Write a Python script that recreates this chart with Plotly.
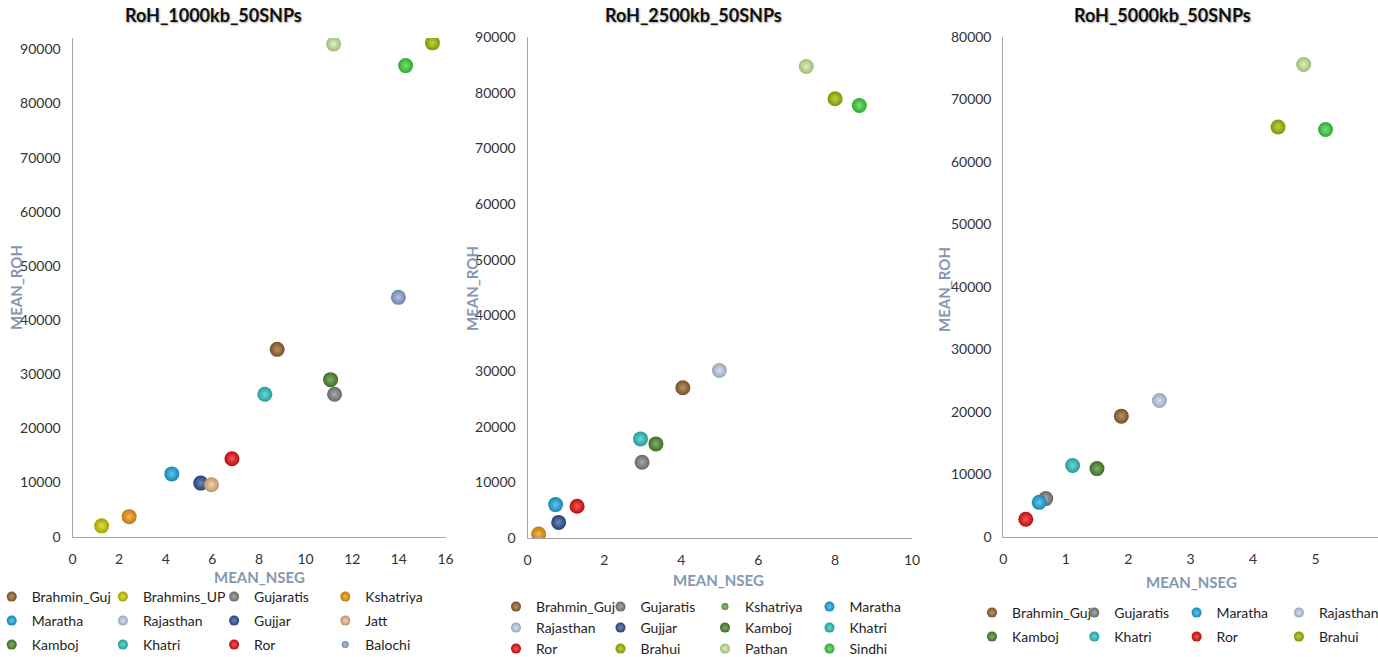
import plotly.graph_objects as go

W, H = 1378, 657

# ---------------- RoH_1000kb_50SNPs ----------------
pops_1000 = ["Brahmin_Guj", "Brahmins_UP", "Gujaratis", "Kshatriya", "Maratha", "Rajasthan",
             "Gujjar", "Jatt", "Kamboj", "Khatri", "Ror", "Balochi", "Pathan", "Sindhi", "Brahui"]
nseg_1000 = [8.78, 1.25, 11.24, 2.43, 4.26, None, 5.50, 5.96, 11.07, 8.25, 6.84, 13.98, 11.20, 14.29, 15.44]
roh_1000 = [34600, 2000, 26300, 3700, 11600, None, 9900, 9600, 29000, 26300, 14400, 44200, 91000, 87000, 91200]
legend_rows_1000 = [["Brahmin_Guj", "Brahmins_UP", "Gujaratis", "Kshatriya"],
                    ["Maratha", "Rajasthan", "Gujjar", "Jatt"],
                    ["Kamboj", "Khatri", "Ror", "Balochi"]]

# ---------------- RoH_2500kb_50SNPs ----------------
pops_2500 = ["Brahmin_Guj", "Gujaratis", "Kshatriya", "Maratha", "Rajasthan", "Gujjar",
             "Kamboj", "Khatri", "Ror", "Brahui", "Pathan", "Sindhi"]
nseg_2500 = [4.04, 2.98, 0.29, 0.73, 4.99, 0.81, 3.34, 2.94, 1.29, 8.00, 7.25, 8.63]
roh_2500 = [27000, 13600, 700, 6000, 30100, 2800, 16900, 17800, 5700, 78900, 84700, 77700]
legend_rows_2500 = [["Brahmin_Guj", "Gujaratis", "Kshatriya", "Maratha"],
                    ["Rajasthan", "Gujjar", "Kamboj", "Khatri"],
                    ["Ror", "Brahui", "Pathan", "Sindhi"]]

# ---------------- RoH_5000kb_50SNPs ----------------
pops_5000 = ["Brahmin_Guj", "Gujaratis", "Maratha", "Rajasthan", "Kamboj", "Khatri", "Ror",
             "Brahui", "Pathan", "Sindhi"]
nseg_5000 = [1.89, 0.68, 0.575, 2.50, 1.50, 1.11, 0.36, 4.40, 4.81, 5.16]
roh_5000 = [19300, 6100, 5500, 21800, 10900, 11400, 2800, 65600, 75600, 65200]
legend_rows_5000 = [["Brahmin_Guj", "Gujaratis", "Maratha", "Rajasthan"],
                    ["Kamboj", "Khatri", "Ror", "Brahui"]]

titles = ["RoH_1000kb_50SNPs", "RoH_2500kb_50SNPs", "RoH_5000kb_50SNPs"]

colors = {
    "Brahmin_Guj": "#9a6630",
    "Brahmins_UP": "#d0d000",
    "Gujaratis": "#858585",
    "Kshatriya": "#f29b0c",
    "Maratha": "#1aaee6",
    "Rajasthan": "#c6d3ee",
    "Gujjar": "#2f5597",
    "Jatt": "#f0be8c",
    "Kamboj": "#4f8a2e",
    "Khatri": "#2cc9c4",
    "Ror": "#f01010",
    "Balochi": "#8faadc",
    "Brahui": "#a2bf00",
    "Pathan": "#cdef9e",
    "Sindhi": "#3fd63f",
}
# legend keys that are styled apart from their series' points: (panel, name) -> (colour, size)
legend_key_style = {(0, "Balochi"): ("#8faadc", 7), (1, "Kshatriya"): ("#62ad3c", 7)}


def shade(hex_color, f):
    """f > 0 lightens toward white, f < 0 darkens toward black."""
    h = hex_color.lstrip("#")
    rgb = [int(h[i:i + 2], 16) for i in (0, 2, 4)]
    if f >= 0:
        rgb = [round(c + (255 - c) * f) for c in rgb]
    else:
        rgb = [round(c * (1 + f)) for c in rgb]
    return "#%02x%02x%02x" % tuple(rgb)


def ball(color, size):
    # radial gradient: gradient colour sits at the centre, marker colour at the rim
    return dict(size=size, color=shade(color, -0.22),
                gradient=dict(type="radial", color=shade(color, 0.3)),
                line=dict(width=0))


fig = go.Figure()

# plot-area geometry in pixels: (left, right, top, bottom)
boxes = [(72.5, 445.5, 38, 536.7), (527.5, 912, 37, 538), (1003.3, 1378, 37, 536.7)]
x_ranges = [[0, 16], [0, 10], [0, 6]]
x_ticks = [list(range(0, 17, 2)), list(range(0, 11, 2)), list(range(0, 7))]
y_ranges = [[0, 92100], [0, 90000], [0, 80000]]
y_ticks = [list(range(0, 90001, 10000)), list(range(0, 90001, 10000)), list(range(0, 80001, 10000))]

panels = [(pops_1000, nseg_1000, roh_1000, legend_rows_1000),
          (pops_2500, nseg_2500, roh_2500, legend_rows_2500),
          (pops_5000, nseg_5000, roh_5000, legend_rows_5000)]

# legend rows: (first text x, row y, column step) in pixels
legend_geo = [
    [(31.7, 597, 112.2), (31.7, 621, 112.2), (31.7, 645, 112.2)],
    [(536, 607, 105.5), (536, 628, 105.5), (536, 649, 105.5)],
    [(1012, 613, 103.3), (1012, 637, 103.3)],
]

legend_layouts = {}
legend_counter = 0
for p, (pops, xs, ys, rows) in enumerate(panels):
    ax = "" if p == 0 else str(p + 1)

    # points
    for name, xv, yv in zip(pops, xs, ys):
        if xv is None:
            continue
        fig.add_trace(go.Scatter(
            x=[xv], y=[yv], mode="markers", name=name,
            marker=ball(colors[name], 15),
            xaxis="x" + ax, yaxis="y" + ax,
            showlegend=False, legendgroup="p%d_%s" % (p, name),
            hoverinfo="name+x+y",
        ))

    # legend, one horizontal legend per row
    for r, row in enumerate(rows):
        legend_counter += 1
        lid = "legend" if legend_counter == 1 else "legend%d" % legend_counter
        tx, ty, step = legend_geo[p][r]
        legend_layouts[lid] = dict(
            orientation="h", x=(tx - 40) / W, xanchor="left", y=1 - ty / H, yanchor="middle",
            entrywidth=step - 46, entrywidthmode="pixels", itemsizing="trace",
            font=dict(family="Lato", size=14, color="#1e1e1e"),
            bgcolor="rgba(0,0,0,0)", borderwidth=0, tracegroupgap=0,
            itemclick=False, itemdoubleclick=False,
        )
        for name in row:
            kcol, ksize = legend_key_style.get((p, name), (colors[name], 10))
            fig.add_trace(go.Scatter(
                x=[None], y=[None], mode="markers", name=name,
                marker=ball(kcol, ksize),
                xaxis="x" + ax, yaxis="y" + ax,
                legend=lid, showlegend=True,
                legendgroup="p%d_%s" % (p, name),
            ))

axis_common = dict(showgrid=False, zeroline=False, showline=True, linecolor="#a6a6a6",
                   linewidth=1, ticks="", fixedrange=True,
                   tickfont=dict(family="Lato", size=14, color="#333333"))

layout = dict(width=W, height=H, paper_bgcolor="white", plot_bgcolor="white",
              margin=dict(l=0, r=0, t=0, b=0, autoexpand=False), hovermode="closest")

annotations = []
title_centers = [213, 693, 1162]
ytitle_pos = [(16, 288), (472, 289), (944, 290)]
xtitle_pos = [(259, 577), (718, 580), (1191, 582)]
for p in range(3):
    ax = "" if p == 0 else str(p + 1)
    l, r, t, b = boxes[p]
    layout["xaxis" + ax] = dict(axis_common, domain=[l / W, min(r / W, 1)], range=x_ranges[p],
                                tickvals=x_ticks[p], anchor="y" + ax, ticklabelstandoff=9)
    layout["yaxis" + ax] = dict(axis_common, domain=[1 - b / H, 1 - t / H], range=y_ranges[p],
                                tickvals=y_ticks[p], tickformat="d", anchor="x" + ax,
                                ticklabelstandoff=8)
    annotations.append(dict(text="<b>%s</b>" % titles[p], x=title_centers[p] / W, y=1 - 15 / H,
                            xref="paper", yref="paper", showarrow=False, xanchor="center",
                            yanchor="middle",
                            font=dict(family="Lato", size=18, color="#111111",
                                      shadow="1px 1px 2px rgba(0,0,0,0.35)")))
    yx, yy = ytitle_pos[p]
    annotations.append(dict(text="<b>MEAN_ROH</b>", x=yx / W, y=1 - yy / H, xref="paper",
                            yref="paper", showarrow=False, textangle=-90, xanchor="center",
                            yanchor="middle",
                            font=dict(family="Lato", size=15, color="#8497b0")))
    xx, xy = xtitle_pos[p]
    annotations.append(dict(text="<b>MEAN_NSEG</b>", x=xx / W, y=1 - xy / H, xref="paper",
                            yref="paper", showarrow=False, xanchor="center", yanchor="middle",
                            font=dict(family="Lato", size=15, color="#8497b0")))

layout["annotations"] = annotations
layout.update(legend_layouts)
fig.update_layout(**layout)

fig.write_html("out.html")
